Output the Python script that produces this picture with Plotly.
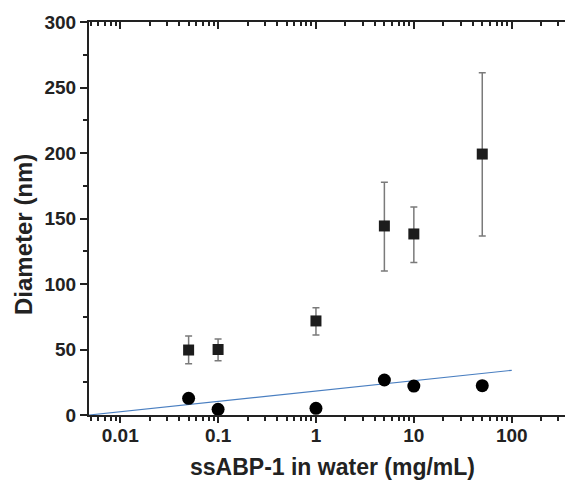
import plotly.graph_objects as go
import numpy as np

# Data
conc = [0.05, 0.1, 1, 5, 10, 50]
sq_diam = [49.6, 50.0, 71.8, 144.3, 138.2, 199.2]
sq_upper = [60.3, 58.0, 81.9, 177.6, 158.8, 261.3]
sq_lower = [39.1, 41.5, 61.0, 109.9, 116.5, 136.6]
circ_diam = [12.7, 4.3, 5.1, 26.7, 22.1, 22.4]
fit_x = [0.0048, 100]
fit_y = [0.0, 34.1]

x_tickvals = [0.01, 0.1, 1, 10, 100]
x_ticktext = ["0.01", "0.1", "1", "10", "100"]
y_tickvals = [0, 50, 100, 150, 200, 250, 300]

# page has an 8px body margin; figure sized so it ends at the window edge
OFF = 8
W, H = 573 - OFF, 486 - OFF
L, R, T, B = 89 - OFF, 0, 22 - OFF, 71
xr = [np.log10(0.0048), 2.626]
yr = [0, 300]

err_plus = [u - v for u, v in zip(sq_upper, sq_diam)]
err_minus = [v - l for v, l in zip(sq_diam, sq_lower)]

FONT = "Liberation Sans, Arial, sans-serif"
axcol = "#222222"
tickfont = dict(family=FONT, size=19, color=axcol)

fig = go.Figure()
fig.add_trace(go.Scatter(
    x=fit_x, y=fit_y, mode="lines",
    line=dict(color="#4a7fc1", width=1.2), showlegend=False, hoverinfo="skip"))
fig.add_trace(go.Scatter(
    x=conc, y=sq_diam, mode="markers",
    marker=dict(symbol="square", size=11, color="#1c1c1c"),
    error_y=dict(type="data", symmetric=False, array=err_plus, arrayminus=err_minus,
                 color="#7a7a7a", thickness=1.5, width=3.5),
    showlegend=False))
fig.add_trace(go.Scatter(
    x=conc, y=circ_diam, mode="markers",
    marker=dict(symbol="circle", size=13, color="#000000"),
    showlegend=False))
# invisible trace so the mirrored top/right axes are drawn
fig.add_trace(go.Scatter(
    x=fit_x, y=fit_y, xaxis="x2", yaxis="y2", mode="markers",
    marker=dict(opacity=0), showlegend=False, hoverinfo="skip"))

fig.update_layout(
    width=W, height=H,
    margin=dict(l=L, r=R, t=T, b=B, pad=0, autoexpand=False),
    paper_bgcolor="white", plot_bgcolor="white",
    font=dict(family=FONT, color=axcol),
    xaxis=dict(
        type="log", range=xr, tickvals=x_tickvals,
        ticktext=["<b>%s</b>" % t for t in x_ticktext],
        ticks="outside", ticklen=6, tickwidth=2, tickcolor=axcol,
        minor=dict(dtick="D1", ticks="outside", ticklen=4, tickwidth=1.5, tickcolor=axcol, showgrid=False),
        showline=True, linewidth=2, linecolor=axcol, showgrid=False, zeroline=False,
        tickfont=tickfont, ticklabelstandoff=-4, automargin=False,
    ),
    xaxis2=dict(
        type="log", range=xr, overlaying="x", side="top", anchor="y2",
        tickvals=x_tickvals, showticklabels=False,
        ticks="inside", ticklen=7, tickwidth=2, tickcolor=axcol,
        minor=dict(dtick="D1", ticks="inside", ticklen=4, tickwidth=1.5, tickcolor=axcol, showgrid=False),
        showline=True, linewidth=2, linecolor=axcol, showgrid=False, zeroline=False,
        automargin=False,
    ),
    yaxis=dict(
        range=yr, tickvals=y_tickvals,
        ticktext=["<b>%d</b>" % v for v in y_tickvals],
        ticks="outside", ticklen=7, tickwidth=2, tickcolor=axcol,
        minor=dict(dtick=25, ticks="outside", ticklen=4, tickwidth=1.5, tickcolor=axcol, showgrid=False),
        showline=True, linewidth=2, linecolor=axcol, showgrid=False, zeroline=False,
        tickfont=tickfont, ticklabelstandoff=0, automargin=False,
    ),
    yaxis2=dict(
        range=yr, overlaying="y", side="right", anchor="x2",
        tickvals=y_tickvals, showticklabels=False,
        ticks="inside", ticklen=3, tickwidth=2, tickcolor=axcol,
        showline=False, showgrid=False, zeroline=False, automargin=False,
    ),
)

PH = H - T - B
PW = W - L - R
# Axis titles as annotations (bold), positions given in page pixels
fig.add_annotation(
    text="<b>ssABP-1 in water (mg/mL)</b>", xref="paper", yref="paper",
    x=(332 - OFF - L) / PW, y=-(467 - 415) / PH, xanchor="center", yanchor="middle",
    showarrow=False, font=dict(family=FONT, size=23, color=axcol))
fig.add_annotation(
    text="<b>Diameter (nm)</b>", xref="paper", yref="paper",
    x=(23 - 89) / PW, y=(415 - 235) / PH, xanchor="center", yanchor="middle",
    textangle=-90, showarrow=False, font=dict(family=FONT, size=24, color=axcol))

fig.write_html("out.html")
